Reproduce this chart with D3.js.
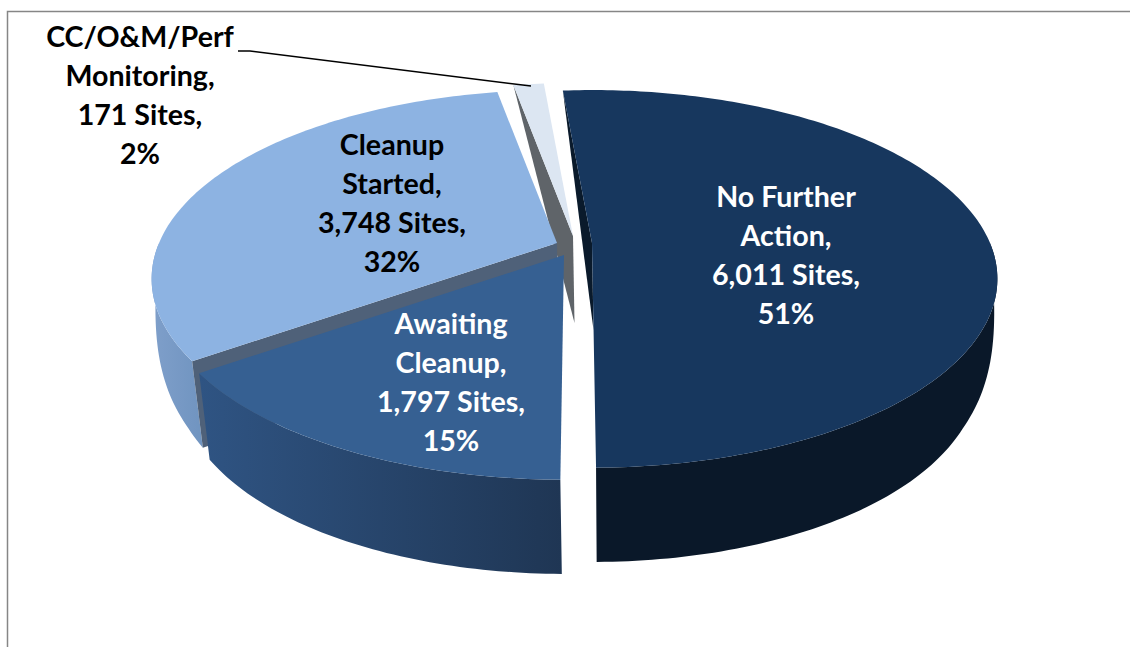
<!DOCTYPE html>
<html lang="en">
<head>
    <meta charset="UTF-8">
    <title>Sites by Cleanup Status</title>
    <script src="https://d3js.org/d3.v7.min.js"></script>
    <style>
        html, body { margin: 0; padding: 0; background: #fff; }
        svg { display: block; }
        text { font-family: Lato, "Open Sans", sans-serif; font-weight: 700; font-size: 28.6px; text-anchor: middle; }
    </style>
</head>
<body>
    <svg width="1130" height="647"></svg>
    <script>
// Chart data
const categories = ['No Further Action', 'Awaiting Cleanup', 'Cleanup Started', 'CC/O&M/Perf Monitoring'];
const nameLines = [['No Further', 'Action,'], ['Awaiting', 'Cleanup,'], ['Cleanup', 'Started,'], ['CC/O&M/Perf', 'Monitoring,']];
const sites = [6011, 1797, 3748, 171];
const percents = [51, 15, 32, 2];

// Slice styles
const topColors = ['#17375e', '#366092', '#8db3e2', '#dce6f2'];
const wallStops = [['#0a1829', '#0a1829'], ['#2f5483', '#1f3654'], ['#7f9fca', '#7094c0'], ['#5f6469', '#5f6469']];
const textColors = ['#fff', '#fff', '#000', '#000'];

// Layout: pie centre, ellipse radii, perspective, slice explosion
const cx = 572, cy = 243, rx = 398, ry = 182, persp = 0.19;
const startDeg = -5;
const explode = [[20, 0], [-8, 12], [-15, 0], [1, -7]];
const startTrim = [0, 0.9, 0, 0]; // degrees
const labelX = [786, 451, 392, 140];
const labelY = [197, 324, 145, 37];
const lineHeight = 38.9;

const svg = d3.select('svg');
const defs = svg.append('defs');

// frame of the chart area
svg.append('path')
    .attr('d', 'M7.5,647V11.5H1130')
    .attr('fill', 'none')
    .attr('stroke', '#868686')
    .attr('stroke-width', 1.5);

const pie = d3.pie().sort(null)
    .startAngle(startDeg * Math.PI / 180)
    .endAngle(startDeg * Math.PI / 180 + 2 * Math.PI);
const arcs = pie(sites);
arcs.forEach((a, i) => { a.startAngle += startTrim[i] * Math.PI / 180; });

// project a point of the pie plane, r in 0..1, bottom = lower rim
function project(i, angle, r, bottom) {
    const X = r * Math.sin(angle), Y = -r * Math.cos(angle);
    const s = 1 / (1 - persp * Y);
    let x = cx + explode[i][0] + rx * X * s;
    let y = cy + explode[i][1] + ry * Y * s;
    if (bottom) {
        // the apex drops by 87, the rim fades out towards the sides
        const fade = Math.min(1, Math.max(Y, 0) * 2);
        y += r === 0 ? 87 : 96 * (1 - Math.exp(-4 * Math.max(Y, 0)));
        x += r === 0 ? 1.5 : (1.5 + (560 - x) * 0.025) * fade;
    }
    return [x, y];
}

const line = d3.line();

function rim(i, bottom, frontOnly) {
    const a = arcs[i];
    const n = Math.ceil((a.endAngle - a.startAngle) * 60);
    return d3.range(n + 1)
        .map(k => a.startAngle + (a.endAngle - a.startAngle) * k / n)
        .filter(t => !frontOnly || Math.cos(t) < 0)
        .map(t => project(i, t, 1, bottom));
}

function drawTop(i) {
    svg.append('path')
        .attr('d', line(rim(i, false).concat([project(i, 0, 0, false)])) + 'Z')
        .attr('fill', topColors[i]);
}

function drawOuterWall(i) {
    const id = 'wall' + i;
    const grad = defs.append('linearGradient').attr('id', id);
    grad.append('stop').attr('offset', '0%').attr('stop-color', wallStops[i][0]);
    grad.append('stop').attr('offset', '100%').attr('stop-color', wallStops[i][1]);
    svg.append('path')
        .attr('d', line(rim(i, false, true).concat(rim(i, true, true).reverse())) + 'Z')
        .attr('fill', `url(#${id})`);
}

// wall on the cut edge of a slice, seen as a triangle at the back of the pie
function drawCutTriangle(i, color) {
    const a = arcs[i].startAngle;
    const pts = [project(i, a, 1, false), project(i, a, 0, false), project(i, a, 0, true)];
    svg.append('path').attr('d', line(pts) + 'Z').attr('fill', color);
}

function drawCutQuad(i, color) {
    const a = arcs[i].startAngle;
    const pts = [project(i, a, 1, false), project(i, a, 0, false), project(i, a, 0, true), project(i, a, 1, true)];
    svg.append('path').attr('d', line(pts) + 'Z').attr('fill', color);
}

// back to front
drawCutTriangle(3, '#5f6469');
drawTop(3);
drawOuterWall(2);
drawCutQuad(2, '#4f6179');
drawTop(2);
drawCutTriangle(0, '#0a1a2b');
drawOuterWall(0);
drawTop(0);
drawOuterWall(1);
drawTop(1);

// leader line for the small slice
svg.append('path')
    .attr('d', line([[238, 51], [250, 51], [531, 86]]))
    .attr('fill', 'none')
    .attr('stroke', '#000')
    .attr('stroke-width', 1.5);

// data labels
categories.forEach((name, i) => {
    const lines = nameLines[i].concat([d3.format(',')(sites[i]) + ' Sites,', percents[i] + '%']);
    svg.append('g')
        .attr('aria-label', name)
        .selectAll('text')
        .data(lines)
        .enter()
        .append('text')
        .attr('x', labelX[i])
        .attr('y', (d, k) => labelY[i] + k * lineHeight)
        .attr('dy', '0.35em')
        .attr('fill', textColors[i])
        .text(d => d);
});
    </script>
</body>
</html>
